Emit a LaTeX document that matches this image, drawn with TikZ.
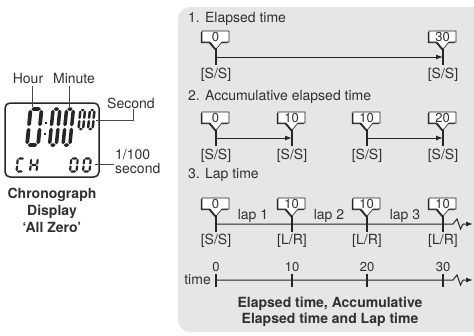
\documentclass[tikz,border=0pt]{standalone}
\usepackage{fontspec}
\setmainfont{TeX Gyre Heros}
\usetikzlibrary{arrows.meta}
\definecolor{panelgray}{HTML}{E6E6E6}
\definecolor{ink}{HTML}{262626}
\definecolor{txt}{HTML}{303030}

% seven-segment helpers (local coords: u right, v up)
\newcommand\hsg[3]{\fill[ink] ({#1+\gp},{#3}) -- ({#1+\gp+\T/2},{#3+\T/2}) -- ({#2-\gp-\T/2},{#3+\T/2}) -- ({#2-\gp},{#3}) -- ({#2-\gp-\T/2},{#3-\T/2}) -- ({#1+\gp+\T/2},{#3-\T/2}) -- cycle;}
\newcommand\vsg[3]{\fill[ink] ({#1},{#2+\gp}) -- ({#1+\T/2},{#2+\gp+\T/2}) -- ({#1+\T/2},{#3-\gp-\T/2}) -- ({#1},{#3-\gp}) -- ({#1-\T/2},{#3-\gp-\T/2}) -- ({#1-\T/2},{#2+\gp+\T/2}) -- cycle;}
\newcommand\sga{\hsg{0}{\W}{\H}}
\newcommand\sgb{\vsg{\W}{\H/2}{\H}}
\newcommand\sgc{\vsg{\W}{0}{\H/2}}
\newcommand\sgd{\hsg{0}{\W}{0}}
\newcommand\sge{\vsg{0}{0}{\H/2}}
\newcommand\sgf{\vsg{0}{\H/2}{\H}}
\newcommand\sgg{\hsg{0}{\W}{\H/2}}
\newcommand\segdigit[6]{%
  \begin{scope}[shift={(#1,#2)}, xslant=0.1, yscale=-1]
    \def\W{#3}\def\H{#4}\def\T{#5}\pgfmathsetmacro\gp{#5*0.2}
    \foreach \s in {#6}{\csname sg\s\endcsname}
  \end{scope}}

% callout box with pointer: tick x, line y, number, name
\newcommand\calloutpath[2]{({#1-14},{#2-26}) -- ({#1+13},{#2-26}) -- ({#1+13},{#2-15}) -- ({#1+6},{#2-15}) -- (#1,{#2-8}) -- ({#1-6},{#2-15}) -- ({#1-14},{#2-15}) -- cycle}
\newcommand\callout[4]{%
  \fill[ink, shift={(-1.1,1.1)}] \calloutpath{#1}{#2};
  \filldraw[fill=white, draw=ink, line width=0.6pt] \calloutpath{#1}{#2};
  \node[numlbl] (#4) at ({#1-0.5},{#2-20.5}) {#3};
  \draw[tick] (#1,{#2-8}) -- (#1,{#2+8});
}

\begin{document}
\begin{tikzpicture}[x=1pt,y=-1pt,
  lbl/.style={inner sep=0pt, text=txt, font=\fontsize{14}{17}\selectfont},
  boldlbl/.style={inner sep=0pt, text=txt, font=\fontsize{14}{17}\selectfont\bfseries},
  numlbl/.style={inner sep=0pt, text=txt, font=\fontsize{13}{15}\selectfont},
  tick/.style={draw=ink, line width=1.3pt},
  tl/.style={draw=ink, line width=1pt},
  arr/.style={tl, -{Latex[length=7pt,width=5pt]}},
  lead/.style={draw=ink!85, line width=0.8pt}]
\useasboundingbox (0,0) rectangle (474,335);

% panel
\begin{scope}
  \clip (0,0) rectangle (474,335);
  \fill[panelgray, rounded corners=12pt] (178,7) rectangle (500,332);
\end{scope}

% ---------- chronograph display ----------
\draw[ink, line width=1.5pt, rounded corners=5pt] (5,103) rectangle (99,177);
\segdigit{27}{145}{11}{36}{3.8}{a,b,c,d,e,f}
\segdigit{49.5}{145}{6.8}{36}{3.5}{a,b,c,d,e,f}
\segdigit{63}{145}{6.8}{36}{3.5}{a,b,c,d,e,f}
\fill[ink] (44.6,121.5) rectangle +(2.6,2.6);
\fill[ink] (43.5,132.5) rectangle +(2.6,2.6);
\segdigit{78.5}{129}{4.6}{19}{2.5}{a,b,c,d,e,f}
\segdigit{88}{129}{4.6}{19}{2.5}{a,b,c,d,e,f}
\segdigit{16.5}{171.5}{6.5}{13}{2.2}{a,d,e,f}
\segdigit{30}{171.5}{6.5}{13}{2.2}{b,c,e,f,g}
\segdigit{70}{171.5}{6.5}{13}{2.2}{a,b,c,d,e,f}
\segdigit{83}{171.5}{6.5}{13}{2.2}{a,b,c,d,e,f}

\node[lbl, anchor=base] (hour) at (28,83) {Hour};
\node[lbl, anchor=base] (minute) at (74,83) {Minute};
\node[lbl, anchor=base west] (second) at (107,108) {Second};
\node[lbl, anchor=base west] (hund) at (115,159) {1/100};
\node[lbl, anchor=base west] (hsec) at (115,173) {second};
\coordinate (hourpt) at (32,107);
\coordinate (minpt) at (69,107);
\coordinate (secpt) at (96,120);
\coordinate (secup) at (133,109);
\coordinate (hundpt) at (95,164);
\coordinate (hundend) at (114,164);
\draw[lead] (32,86) -- (hourpt);
\draw[lead] (69,86) -- (minpt);
\draw[lead] (secpt) -| (secup);
\draw[lead] (hundpt) -- (hundend);

\node[boldlbl, anchor=base] (cap1) at (52,198) {Chronograph};
\node[boldlbl, anchor=base] (cap2) at (52,215) {Display};
\node[boldlbl, anchor=base] (cap3) at (52,232) {‘All Zero’};

% ---------- panel ----------
\node[lbl, anchor=base west] (h1) at (188,22) {1. Elapsed time};
\node[lbl, anchor=base west] (h2) at (188,100) {2. Accumulative elapsed time};
\node[lbl, anchor=base west] (h3) at (188,178) {3. Lap time};

% row 1
\coordinate (r1a) at (216,57);
\coordinate (r1d) at (443,57);
\draw[arr] (r1a) -- (r1d);
\callout{216}{57}{0}{b1a}
\callout{443}{57}{30}{b1d}
\node[lbl, anchor=base] (s1a) at (216,78) {[S/S]};
\node[lbl, anchor=base] (s1d) at (443,78) {[S/S]};

% row 2
\coordinate (r2a) at (216,138);
\coordinate (r2b) at (292,138);
\coordinate (r2c) at (367,138);
\coordinate (r2d) at (443,138);
\draw[arr] (r2a) -- (r2b);
\draw[arr] (r2c) -- (r2d);
\callout{216}{138}{0}{b2a}
\callout{292}{138}{10}{b2b}
\callout{367}{138}{10}{b2c}
\callout{443}{138}{20}{b2d}
\node[lbl, anchor=base] (s2a) at (216,159) {[S/S]};
\node[lbl, anchor=base] (s2b) at (292,159) {[S/S]};
\node[lbl, anchor=base] (s2c) at (367,159) {[S/S]};
\node[lbl, anchor=base] (s2d) at (443,159) {[S/S]};

% row 3
\coordinate (r3a) at (216,224);
\coordinate (r3end) at (473,224);
\draw[arr] (r3a) -- (453,224) -- ++(4,-5) -- ++(3.5,10) -- ++(2.5,-5) -- (r3end);
\callout{216}{224}{0}{b3a}
\callout{292}{224}{10}{b3b}
\callout{367}{224}{10}{b3c}
\callout{443}{224}{10}{b3d}
\node[lbl, anchor=base] (lap1) at (253,219) {lap 1};
\node[lbl, anchor=base] (lap2) at (329,219) {lap 2};
\node[lbl, anchor=base] (lap3) at (405,219) {lap 3};
\node[lbl, anchor=base] (s3a) at (216,244) {[S/S]};
\node[lbl, anchor=base] (s3b) at (292,244) {[L/R]};
\node[lbl, anchor=base] (s3c) at (367,244) {[L/R]};
\node[lbl, anchor=base] (s3d) at (443,244) {[L/R]};

% time axis
\coordinate (ta) at (216,280);
\coordinate (tend) at (473,280);
\draw[arr] (ta) -- (453,280) -- ++(4,-5) -- ++(3.5,10) -- ++(2.5,-5) -- (tend);
\foreach \x/\n in {216/0,292/10,367/20,443/30}{
  \draw[tick] (\x,274) -- (\x,287);
  \node[numlbl, anchor=base] (t\n) at (\x,271) {\n};
}
\node[lbl, anchor=base east] (time) at (211,284) {time};

\node[boldlbl, anchor=base] (c1) at (330,307) {Elapsed time, Accumulative};
\node[boldlbl, anchor=base] (c2) at (330,323) {Elapsed time and Lap time};
\end{tikzpicture}
\end{document}
